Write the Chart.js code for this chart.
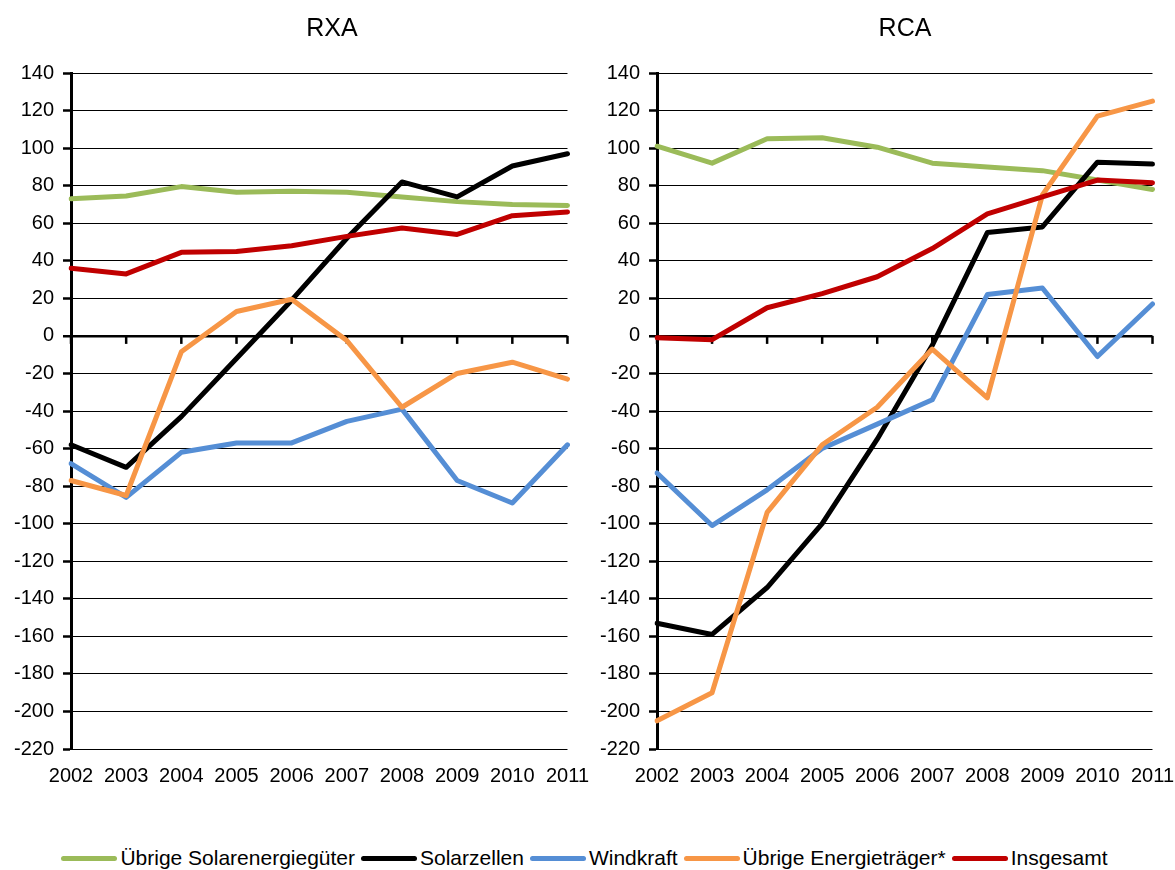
<!DOCTYPE html>
<html>
<head>
<meta charset="utf-8">
<script src="https://cdn.jsdelivr.net/npm/chart.js@4.4.0/dist/chart.umd.min.js"></script>
<style>
    body { margin: 0; background: #fff; font-family: "Liberation Sans", Arial, sans-serif; overflow: hidden; }
    #wrap { position: relative; width: 1175px; height: 870px; overflow: hidden; }
    canvas { position: absolute; top: 0; }
    .title {
        position: absolute; top: 12px; width: 200px; margin-left: -100px;
        text-align: center; font-size: 25px; line-height: 30px; color: #000;
    }
    #legend {
        position: absolute; left: 0; top: 845px; width: 1175px; height: 26px;
        display: flex; justify-content: center; align-items: center;
        font-size: 21px; color: #000; white-space: nowrap;
    }
    .item { display: flex; align-items: center; margin-right: 6px; }
    .mark { display: inline-block; width: 56px; height: 5px; border-radius: 3px; margin-right: 3px; }
</style>
</head>
<body>
<div id="wrap">
    <canvas id="rxaChart" width="604" height="800" style="left:0"></canvas>
    <canvas id="rcaChart" width="602" height="800" style="left:587px"></canvas>
    <div class="title" style="left:332px">RXA</div>
    <div class="title" style="left:905px">RCA</div>
    <div id="legend"></div>
</div>
<script>
// Jahre (Kategorien)
const years = ['2002', '2003', '2004', '2005', '2006', '2007', '2008', '2009', '2010', '2011'];

// Reihen
const seriesNames = ['Übrige Solarenergiegüter', 'Solarzellen', 'Windkraft', 'Übrige Energieträger*', 'Insgesamt'];
const seriesColors = ['#9BBB59', '#000000', '#558ED5', '#F79646', '#C00000'];

// RXA-Werte
const rxaSolarOther = [73, 74.5, 79.5, 76.5, 77, 76.5, 74, 71.5, 70, 69.5];
const rxaSolarCells = [-58, -70, -43, -12, 19, 52, 82, 74, 90.5, 97];
const rxaWind = [-68, -86, -62, -57, -57, -45.5, -39, -77, -89, -58];
const rxaEnergyOther = [-77, -85, -8.5, 13, 19.5, -2.5, -38, -20, -14, -23];
const rxaTotal = [36, 33, 44.5, 45, 48, 53, 57.5, 54, 64, 66];

// RCA-Werte
const rcaSolarOther = [101, 92, 105, 105.5, 100.5, 92, 90, 88, 83, 78];
const rcaSolarCells = [-153, -159, -134, -100, -55, -5, 55, 58, 92.5, 91.5];
const rcaWind = [-73, -101, -82, -60, -47, -34, 22, 25.5, -11, 17];
const rcaEnergyOther = [-205, -190, -94, -58, -38, -7, -33, 75, 117, 125];
const rcaTotal = [-1, -2, 15, 22.5, 31.5, 46.5, 65, 74, 83, 81.5];

// Achse
const yMin = -220, yMax = 140, yStep = 20;

const FONT = '"Liberation Sans", Arial, sans-serif';

// kleine Striche an der Nulllinie
const zeroTicks = {
    id: 'zeroTicks',
    beforeDatasetsDraw(chart) {
        const ctx = chart.ctx;
        const x = chart.scales.x, y = chart.scales.y;
        const y0 = y.getPixelForValue(0);
        ctx.save();
        ctx.strokeStyle = '#000';
        ctx.lineWidth = 2.5;
        years.forEach((_, i) => {
            const px = x.getPixelForValue(i);
            ctx.beginPath();
            ctx.moveTo(px, y0);
            ctx.lineTo(px, y0 + 8);
            ctx.stroke();
        });
        ctx.restore();
    }
};

function makeChart(id, values, plotLeft) {
    const datasets = values.map((data, i) => ({
        label: seriesNames[i],
        data: data,
        borderColor: seriesColors[i],
        backgroundColor: seriesColors[i],
        borderWidth: 5,
        pointRadius: 0,
        tension: 0,
        borderJoinStyle: 'round',
        borderCapStyle: 'round',
        order: values.length - i
    }));
    return new Chart(document.getElementById(id), {
        type: 'line',
        data: { labels: years, datasets: datasets },
        plugins: [zeroTicks],
        options: {
            responsive: false,
            animation: false,
            layout: { padding: { top: 73, left: 0, right: 0, bottom: 0 } },
            plugins: {
                legend: { display: false },
                tooltip: { enabled: false },
                title: { display: false }
            },
            scales: {
                x: {
                    offset: false,
                    grid: { display: false, drawTicks: false },
                    border: { display: false },
                    ticks: {
                        color: '#000',
                        font: { family: FONT, size: 20 },
                        padding: 15,
                        maxRotation: 0,
                        autoSkip: false
                    },
                    afterFit: (scale) => { scale.height = 800 - 749; }
                },
                y: {
                    min: yMin,
                    max: yMax,
                    grid: {
                        color: '#000',
                        lineWidth: (c) => (c.tick && c.tick.value === 0 ? 2.5 : 1),
                        tickLength: 8,
                        tickWidth: 2.5,
                        tickColor: '#000'
                    },
                    border: { display: true, color: '#000', width: 3 },
                    ticks: {
                        stepSize: yStep,
                        color: '#000',
                        font: { family: FONT, size: 20 },
                        padding: 9
                    },
                    afterFit: (scale) => { scale.width = plotLeft; }
                }
            }
        }
    });
}

makeChart('rxaChart', [rxaSolarOther, rxaSolarCells, rxaWind, rxaEnergyOther, rxaTotal], 71);
makeChart('rcaChart', [rcaSolarOther, rcaSolarCells, rcaWind, rcaEnergyOther, rcaTotal], 70);

// Legende
const legend = document.getElementById('legend');
seriesNames.forEach((name, i) => {
    const item = document.createElement('span');
    item.className = 'item';
    const mark = document.createElement('span');
    mark.className = 'mark';
    mark.style.background = seriesColors[i];
    const text = document.createElement('span');
    text.textContent = name;
    item.appendChild(mark);
    item.appendChild(text);
    legend.appendChild(item);
});
</script>
</body>
</html>
